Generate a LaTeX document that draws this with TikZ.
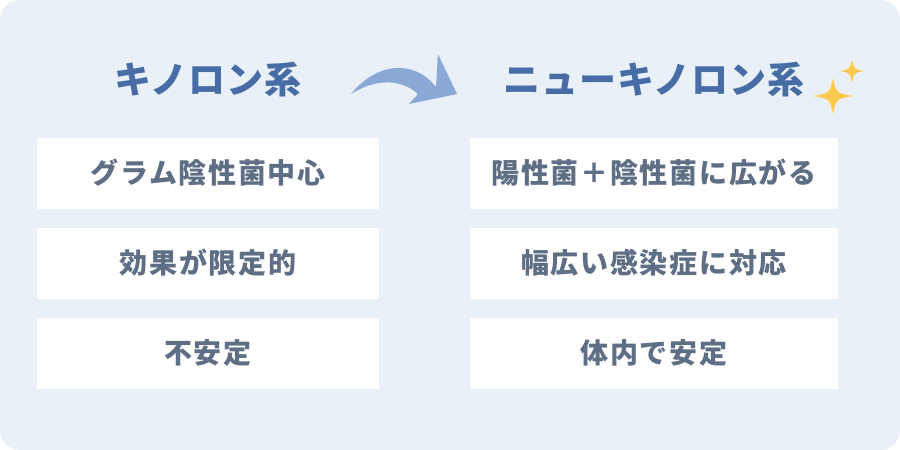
\documentclass[tikz,border=0pt]{standalone}
\usepackage{fontspec}
\newfontfamily\cjkbox[LetterSpace=6]{Noto Sans CJK JP}
\newfontfamily\cjktitle[LetterSpace=3]{Noto Sans CJK JP}
\definecolor{bgc}{HTML}{E9F0F8}
\definecolor{titlec}{HTML}{476CA6}
\definecolor{textc}{HTML}{5E6E84}
\definecolor{arrowc}{HTML}{8BA9D6}
\definecolor{starc}{HTML}{FFC94D}
\tikzset{
  itembox/.style={fill=white, draw=none, minimum width=342pt, minimum height=71pt, inner sep=0pt, text=textc, font=\cjkbox\bfseries\fontsize{28}{32}\selectfont},
  itemboxr/.style={itembox, minimum width=368pt},
  titletext/.style={text=titlec, inner sep=0pt, font=\cjktitle\bfseries\fontsize{37}{42}\selectfont}
}
\begin{document}
\begin{tikzpicture}[x=1pt,y=-1pt]
\useasboundingbox (0,0) rectangle (900,450);
\fill[white] (0,0) rectangle (900,450);
\fill[bgc, rounded corners=20pt] (0,0) rectangle (900,450);

\node[titletext] (t1) at (208,80) {キノロン系};
\node[titletext] (t2) at (654,80) {ニューキノロン系};

\node[itembox] (l1) at (208,173) {グラム陰性菌中心};
\node[itembox] (l2) at (208,263) {効果が限定的};
\node[itembox] (l3) at (208,353) {不安定};
\node[itemboxr] (r1) at (654,173) {陽性菌＋陰性菌に広がる};
\node[itemboxr] (r2) at (654,263) {幅広い感染症に対応};
\node[itemboxr] (r3) at (654,353) {体内で安定};

% curved arrow
\fill[arrowc] (351,94) .. controls (378,61) and (415,60) .. (436,87) -- (438,54) -- (457,94) -- (409,104) -- (418,94) .. controls (400,78) and (375,79) .. (351,94) -- cycle;

% sparkles
\foreach \cx/\cy/\w/\h in {833/96/20/18, 852/71/12/12}{
  \fill[starc] (\cx,\cy-\h) .. controls (\cx+0.16*\w,\cy-0.16*\h) .. (\cx+\w,\cy)
    .. controls (\cx+0.16*\w,\cy+0.16*\h) .. (\cx,\cy+\h)
    .. controls (\cx-0.16*\w,\cy+0.16*\h) .. (\cx-\w,\cy)
    .. controls (\cx-0.16*\w,\cy-0.16*\h) .. (\cx,\cy-\h) -- cycle;
}
\end{tikzpicture}
\end{document}
